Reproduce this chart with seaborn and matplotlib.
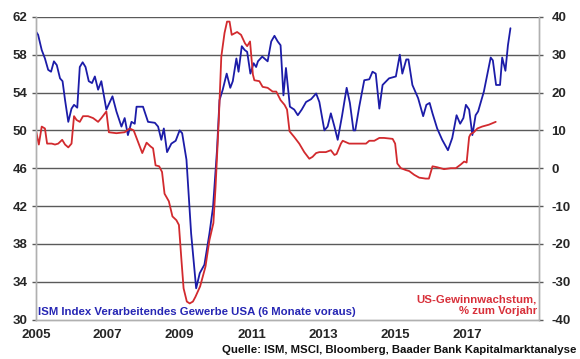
import numpy as np
import pandas as pd
import matplotlib
matplotlib.use("Agg")
import matplotlib.pyplot as plt
import seaborn as sns

# ISM index (left axis), shifted 6 months forward
ism_years = [2005.00, 2005.06, 2005.16, 2005.25, 2005.34, 2005.42, 2005.50, 2005.58, 2005.67, 2005.74,
             2005.81, 2005.90, 2005.99, 2006.06, 2006.15, 2006.22, 2006.30, 2006.38, 2006.47, 2006.56,
             2006.64, 2006.73, 2006.82, 2006.96, 2007.13, 2007.24, 2007.38, 2007.47, 2007.56, 2007.66,
             2007.75, 2007.80, 2007.98, 2008.12, 2008.31, 2008.40, 2008.49, 2008.56, 2008.65, 2008.77,
             2008.89, 2009.00, 2009.07, 2009.19, 2009.32, 2009.46, 2009.56, 2009.69, 2009.83, 2009.93,
             2010.04, 2010.11, 2010.20, 2010.31, 2010.41, 2010.48, 2010.58, 2010.64, 2010.73, 2010.81,
             2010.88, 2010.97, 2011.06, 2011.13, 2011.18, 2011.30, 2011.45, 2011.55, 2011.64, 2011.73,
             2011.81, 2011.89, 2011.96, 2012.07, 2012.19, 2012.29, 2012.40, 2012.52, 2012.66, 2012.80,
             2012.89, 2013.03, 2013.12, 2013.21, 2013.31, 2013.40, 2013.52, 2013.65, 2013.74, 2013.84,
             2013.89, 2014.00, 2014.14, 2014.28, 2014.37, 2014.46, 2014.56, 2014.65, 2014.83, 2015.02,
             2015.13, 2015.20, 2015.31, 2015.37, 2015.48, 2015.64, 2015.78, 2015.87, 2015.96, 2016.04,
             2016.17, 2016.31, 2016.47, 2016.59, 2016.71, 2016.81, 2016.90, 2016.97, 2017.06, 2017.15,
             2017.24, 2017.31, 2017.47, 2017.66, 2017.72, 2017.81, 2017.92, 2017.98, 2018.07, 2018.14,
             2018.21]
ism_values = [60.45, 60.1, 58.5, 57.6, 56.4, 56.2, 57.3, 56.9, 55.5, 55.2,
              53.2, 50.9, 52.3, 52.7, 52.4, 56.7, 57.2, 56.7, 55.2, 55.0,
              55.7, 54.3, 55.2, 52.2, 53.6, 52.0, 50.4, 51.3, 49.5, 50.9,
              50.7, 52.5, 52.5, 50.9, 50.8, 50.4, 49.0, 50.2, 47.7, 48.6,
              48.9, 50.0, 49.7, 46.9, 39.1, 33.3, 34.9, 35.8, 39.1, 41.9,
              47.9, 53.2, 54.3, 56.0, 54.5, 55.2, 57.6, 56.2, 58.9, 58.5,
              58.3, 56.0, 57.1, 56.7, 57.3, 57.8, 57.3, 59.4, 60.0, 59.4,
              59.0, 53.7, 56.6, 52.5, 52.2, 51.6, 52.2, 53.0, 53.3, 53.9,
              53.0, 50.0, 50.4, 51.8, 50.4, 49.0, 51.5, 54.5, 52.9, 50.0,
              50.0, 52.5, 55.3, 55.4, 56.2, 56.0, 52.3, 54.8, 55.5, 55.7,
              58.0, 56.0, 57.5, 57.5, 54.8, 53.4, 51.5, 52.7, 52.9, 51.8,
              50.2, 49.0, 47.9, 49.2, 51.6, 50.7, 51.3, 52.7, 52.2, 49.5,
              51.6, 52.0, 54.1, 57.7, 57.4, 54.8, 54.8, 57.7, 56.3, 59.0,
              60.8]

# US earnings growth, % y/y (right axis)
eps_years = [2005.00, 2005.08, 2005.16, 2005.25, 2005.31, 2005.44, 2005.53, 2005.62, 2005.73, 2005.81,
             2005.90, 2005.99, 2006.06, 2006.13, 2006.22, 2006.31, 2006.45, 2006.59, 2006.73, 2006.82,
             2006.96, 2007.03, 2007.24, 2007.47, 2007.61, 2007.72, 2007.80, 2007.96, 2008.08, 2008.19,
             2008.26, 2008.33, 2008.43, 2008.51, 2008.58, 2008.70, 2008.80, 2008.91, 2008.98, 2009.05,
             2009.11, 2009.20, 2009.28, 2009.37, 2009.44, 2009.57, 2009.72, 2009.83, 2009.94, 2010.00,
             2010.09, 2010.16, 2010.25, 2010.32, 2010.39, 2010.45, 2010.60, 2010.71, 2010.82, 2010.88,
             2010.96, 2011.04, 2011.08, 2011.22, 2011.31, 2011.45, 2011.59, 2011.69, 2011.81, 2011.92,
             2011.99, 2012.06, 2012.19, 2012.33, 2012.47, 2012.61, 2012.70, 2012.80, 2012.89, 2013.07,
             2013.21, 2013.31, 2013.37, 2013.49, 2013.54, 2013.72, 2013.91, 2014.05, 2014.19, 2014.28,
             2014.42, 2014.56, 2014.69, 2014.93, 2015.00, 2015.06, 2015.16, 2015.30, 2015.39, 2015.53,
             2015.67, 2015.85, 2015.94, 2016.04, 2016.17, 2016.36, 2016.55, 2016.69, 2016.83, 2016.92,
             2016.99, 2017.06, 2017.10, 2017.19, 2017.29, 2017.42, 2017.61, 2017.80]
eps_values = [10.0, 6.25, 11.0, 10.5, 6.5, 6.5, 6.25, 6.5, 7.5, 6.25,
              5.5, 6.5, 13.75, 12.75, 12.25, 13.75, 13.75, 13.25, 12.25, 13.25,
              15.0, 9.5, 9.25, 9.5, 10.5, 10.0, 8.0, 4.0, 6.75, 5.75,
              5.25, 0.75, 0.5, -1.0, -6.75, -8.75, -12.75, -13.75, -15.0, -24.25,
              -31.75, -35.25, -35.75, -35.25, -34.0, -31.25, -26.0, -19.0, -14.5, -5.0,
              12.75, 29.5, 35.75, 38.75, 38.75, 35.25, 36.0, 35.25, 33.0, 32.25,
              33.5, 24.75, 23.25, 23.0, 21.5, 21.25, 20.25, 20.25, 18.0, 16.75,
              15.5, 9.75, 8.25, 6.5, 4.25, 2.5, 3.0, 4.0, 4.25, 4.25,
              4.75, 3.5, 3.75, 6.5, 7.25, 6.5, 6.5, 6.5, 6.5, 7.25,
              7.25, 8.0, 8.0, 7.75, 6.5, 1.25, 0.0, -0.5, -0.75, -1.75,
              -2.5, -2.75, -2.75, 0.5, 0.25, -0.25, 0.0, 0.0, 1.0, 1.75,
              1.5, 8.25, 9.0, 9.5, 10.5, 11.0, 11.5, 12.25]

left_ticks = [30, 34, 38, 42, 46, 50, 54, 58, 62]
right_ticks = [-40, -30, -20, -10, 0, 10, 20, 30, 40]
x_ticks = [2005, 2007, 2009, 2011, 2013, 2015, 2017]

sns.set_style("white")
plt.rcParams['font.family'] = ['Liberation Sans', 'DejaVu Sans']

BLUE = "#1c1ca8"
RED = "#d22a2e"

fig = plt.figure(figsize=(5.8, 3.59), dpi=100)
ax = fig.add_axes([0.062, 0.110, 0.867, 0.843])
ax2 = ax.twinx()

ism_df = pd.DataFrame({"year": ism_years, "value": ism_values})
eps_df = pd.DataFrame({"year": eps_years, "value": eps_values})

for y in left_ticks[1:]:
    ax.axhline(y, color="#5a5a5a", lw=1.0, zorder=0)

sns.lineplot(data=ism_df, x="year", y="value", ax=ax, color=BLUE, lw=1.3, zorder=3)
sns.lineplot(data=eps_df, x="year", y="value", ax=ax2, color=RED, lw=1.3, zorder=2)

ax.set_xlim(2005, 2019)
ax.set_ylim(30, 62)
ax2.set_ylim(-40, 40)
ax.set_yticks(left_ticks)
ax2.set_yticks(right_ticks)
ax.set_xticks(x_ticks)
ax.set_xlabel("")
ax.set_ylabel("")
ax2.set_ylabel("")

tick_font = dict(fontsize=9.5, fontweight="bold")
ax.set_yticklabels([str(t) for t in left_ticks], **tick_font)
ax2.set_yticklabels([str(t) for t in right_ticks], **tick_font)
ax.set_xticklabels([str(t) for t in x_ticks], **tick_font)

for a in (ax, ax2):
    for s in a.spines.values():
        s.set_color("#b0b0b0")
        s.set_linewidth(1.0)
    a.spines["top"].set_visible(False)
ax.tick_params(axis="y", length=3, width=1, color="#5a5a5a", pad=3)
ax2.tick_params(axis="y", length=3, width=1, color="#5a5a5a", pad=6)
ax.tick_params(axis="x", length=3, width=1, color="#909090", pad=4)

ax.text(2005.05, 30.5, "ISM Index Verarbeitendes Gewerbe USA (6 Monate voraus)",
        color="#2626b4", fontsize=8.2, fontweight="bold", ha="left", va="baseline", zorder=5)
ax.text(2018.95, 31.85, "US-Gewinnwachstum,", color="#d8303a", fontsize=8.2,
        fontweight="bold", ha="right", va="baseline", zorder=5)
ax.text(2018.95, 30.55, "% zum Vorjahr", color="#d8303a", fontsize=8.2,
        fontweight="bold", ha="right", va="baseline", zorder=5)
fig.text(0.993, 0.018, "Quelle: ISM, MSCI, Bloomberg, Baader Bank Kapitalmarktanalyse",
         color="#111111", fontsize=8.2, fontweight="bold", ha="right", va="baseline")

fig.savefig("out.png", dpi=100)
